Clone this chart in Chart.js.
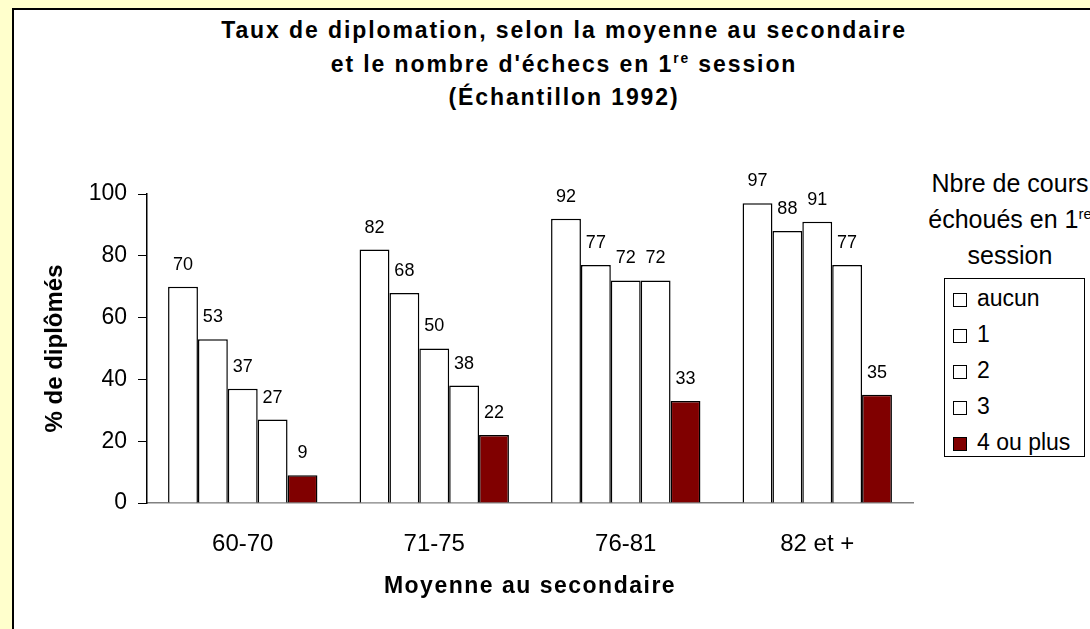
<!DOCTYPE html>
<html>
<head>
<meta charset="utf-8">
<script src="https://cdn.jsdelivr.net/npm/chart.js@4"></script>
<style>
    body { margin: 0; background: #FFFFCC; font-family: "Liberation Sans", Arial, sans-serif; overflow: hidden; }
    #panel { position: absolute; left: 12px; top: 8px; width: 1200px; height: 700px; background: #fff; border: 2px solid #000; }
    #chartWrap { position: absolute; left: 0; top: 0; width: 1090px; height: 629px; }
    #title { position: absolute; left: 214px; width: 700px; top: 14px; text-align: center; font-weight: bold; font-size: 23px; letter-spacing: 1.9px; line-height: 33.5px; white-space: nowrap; }
    #legendTitle { position: absolute; left: 860px; width: 300px; top: 165px; text-align: center; font-size: 25px; line-height: 36px; white-space: nowrap; }
    sup { font-size: 60%; line-height: 0; vertical-align: 0; position: relative; top: -0.6em; }
    #legend { position: absolute; left: 944px; top: 278px; width: 139px; height: 177px; border: 1px solid #000; background: #fff; }
    .item { position: absolute; left: 8px; height: 36px; font-size: 23px; line-height: 36px; white-space: nowrap; }
    .item span.box { display: inline-block; width: 12px; height: 12px; border: 1px solid #000; margin-right: 10px; vertical-align: -1px; }
</style>
</head>
<body>
<div id="panel"></div>
<div id="title">Taux de diplomation, selon la moyenne au secondaire<br>et le nombre d'échecs en 1<sup>re</sup> session<br>(Échantillon 1992)</div>
<div id="legendTitle">Nbre de cours<br>échoués en 1<sup>re</sup><br>session</div>
<div id="legend"></div>
<div id="chartWrap"><canvas id="chart" width="1090" height="629"></canvas></div>
<script>
    // DATA
    const categories = ["60-70", "71-75", "76-81", "82 et +"];
    const seriesNames = ["aucun", "1", "2", "3", "4 ou plus"];
    const aucun = [70, 82, 92, 97];
    const un = [53, 68, 77, 88];
    const deux = [37, 50, 72, 91];
    const trois = [27, 38, 72, 77];
    const quatrePlus = [9, 22, 33, 35];
    const yTicks = [0, 20, 40, 60, 80, 100];
    const xTitle = "Moyenne au secondaire";
    const yTitle = "% de diplômés";

    const seriesValues = [aucun, un, deux, trois, quatrePlus];
    const seriesColors = ["#FFFFFF", "#FFFFFF", "#FFFFFF", "#FFFFFF", "#800000"];
    const FONT = "'Liberation Sans', Arial, sans-serif";

    //build the html legend from the series
    let legend = document.getElementById("legend");
    seriesNames.forEach((name, i) => {
        let div = document.createElement("div");
        div.className = "item";
        div.style.top = (1 + i * 36) + "px";
        div.innerHTML = `<span class="box" style="background:${seriesColors[i]}"></span>${name}`;
        legend.appendChild(div);
    });

    // value labels above bars + spaced x axis title
    const barLabels = {
        id: "barLabels",
        afterDatasetsDraw(chart) {
            let ctx = chart.ctx;
            ctx.save();
            ctx.font = "18px " + FONT;
            ctx.fillStyle = "#000";
            ctx.textAlign = "center";
            ctx.textBaseline = "middle";
            chart.data.datasets.forEach((ds, i) => {
                chart.getDatasetMeta(i).data.forEach((bar, j) => {
                    ctx.fillText(ds.data[j], bar.x, bar.y - 22);
                });
            });
            ctx.restore();
        },
        afterDraw(chart) {
            let ctx = chart.ctx;
            let area = chart.chartArea;
            ctx.save();
            ctx.font = "bold 23px " + FONT;
            ctx.letterSpacing = "1.5px";
            ctx.fillStyle = "#000";
            ctx.textAlign = "center";
            ctx.textBaseline = "middle";
            ctx.fillText(xTitle, (area.left + area.right) / 2, 587);
            ctx.restore();
        }
    };

    let ctx = document.getElementById("chart").getContext("2d");

    new Chart(ctx, {
        type: "bar",
        data: {
            labels: categories,
            datasets: seriesNames.map((name, i) => ({
                label: name,
                data: seriesValues[i],
                backgroundColor: seriesColors[i],
                borderColor: "#000",
                borderWidth: 1.5,
                barPercentage: 1,
                categoryPercentage: 0.78
            }))
        },
        options: {
            responsive: false,
            animation: false,
            devicePixelRatio: 1,
            layout: { padding: { left: 0, right: 177, top: 194, bottom: 0 } },
            plugins: {
                legend: { display: false },
                title: { display: false },
                tooltip: { enabled: false }
            },
            scales: {
                x: {
                    grid: { display: false },
                    border: { display: true, color: "#808080", width: 1.5 },
                    ticks: { color: "#000", font: { size: 24, family: FONT }, padding: 19 },
                    afterFit(scale) { scale.height = 126; }
                },
                y: {
                    min: 0,
                    max: 100,
                    afterBuildTicks(scale) { scale.ticks = yTicks.map(v => ({ value: v })); },
                    grid: { display: true, drawOnChartArea: false, drawTicks: true, tickLength: 9, color: "#000" },
                    border: { display: true, color: "#000", width: 1.5 },
                    ticks: { color: "#000", font: { size: 23, family: FONT }, padding: 11 },
                    title: {
                        display: true,
                        text: yTitle,
                        color: "#000",
                        font: { size: 24, weight: "bold", family: FONT },
                        padding: { top: 41, bottom: 0 }
                    },
                    afterFit(scale) { scale.width = 147; }
                }
            }
        },
        plugins: [barLabels]
    });
</script>
</body>
</html>
